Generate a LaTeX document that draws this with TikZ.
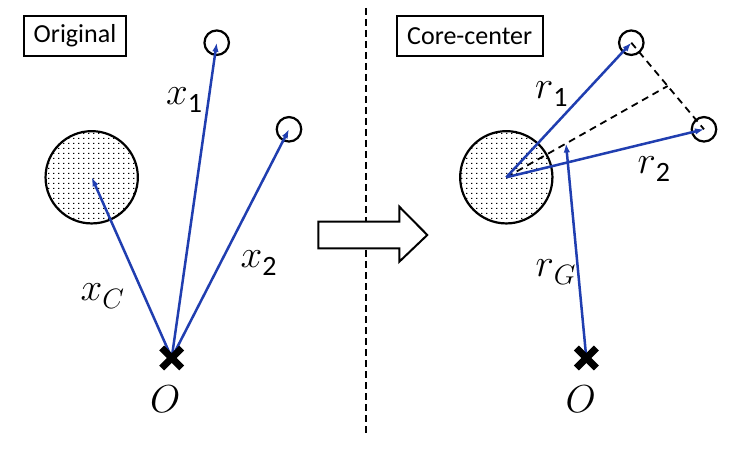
\RequirePackage{fix-cm}
\documentclass[tikz,border=0pt]{standalone}
\usepackage{fontspec}
\setmainfont{Carlito}
\usetikzlibrary{arrows.meta,calc,patterns}
\definecolor{vecblue}{RGB}{32,62,176}
\pgfdeclarepatternformonly{coredots}{\pgfpointorigin}{\pgfpoint{4.8pt}{4.6pt}}{\pgfpoint{4.8pt}{4.6pt}}{%
  \pgfpathrectangle{\pgfpointorigin}{\pgfpoint{1.3pt}{1.3pt}}\pgfusepath{fill}}
\newcommand{\mylab}[2]{{\fontsize{39}{39}\selectfont $#1$\raisebox{-8pt}{\fontsize{28}{28}\selectfont #2}}}
\begin{document}
\begin{tikzpicture}[x=1pt,y=-1pt,
  titlebox/.style={draw,line width=2pt,minimum height=40pt,inner sep=0pt,font=\fontsize{26}{26}\selectfont},
  core/.style={circle,draw,line width=2.2pt,minimum size=92.3pt,inner sep=0pt,pattern=coredots},
  sat/.style={circle,draw,line width=2.2pt,minimum size=24.5pt,inner sep=0pt},
  vec/.style={draw=vecblue,line width=2.5pt,-{Latex[length=9pt,width=6.5pt]}},
  guide/.style={draw,line width=1.8pt,dash pattern=on 7pt off 5pt},
  lab/.style={anchor=base west,inner sep=0pt},
  crossline/.style={line width=7pt}]
\useasboundingbox (0,0) rectangle (747,449);
\fill[white] (0,0) rectangle (747,449);

% divider
\draw[line width=2pt,dash pattern=on 7pt off 4pt] (365.7,8) coordinate (dtop) -- (365.7,433) coordinate (dbot);

% block arrow
\draw[line width=2pt,fill=white,line join=miter]
  (318.3,221.7) -- (399.3,221.7) -- (399.3,206.7) -- (427.3,235) -- (399.3,261.7)
  -- (399.3,248.3) -- (318.3,248.3) -- cycle;

% ---------- left panel ----------
\node[titlebox,minimum width=102.6pt] (orig) at (75,36) {Original};
\node[core] (coreL) at (91.7,177.3) {};
\node[sat] (s1L) at (216.7,42.7) {};
\node[sat] (s2L) at (289,129.3) {};
\coordinate (oL) at (171.7,358);
\draw[vec] (oL) -- (coreL.center);
\draw[vec] (oL) -- (s1L.center);
\draw[vec] (oL) -- (s2L.center);
\draw[crossline] ($(oL)+(-10,-10)$) -- ($(oL)+(10,10)$);
\draw[crossline] ($(oL)+(-10,10)$) -- ($(oL)+(10,-10)$);
\node[lab] (lx1) at (166,105) {\mylab{x}{1}};
\node[lab] (lx2) at (240.5,268) {\mylab{x}{2}};
\node[lab] (lxc) at (80.5,300) {\mylab{x}{$C$}};
\node[lab] (lo1) at (150,412) {\fontsize{39}{39}\selectfont $O$};

% ---------- right panel ----------
\node[titlebox,minimum width=146pt] (cc) at (469.7,36) {Core-center};
\node[core] (coreR) at (506.3,177.3) {};
\node[sat] (s1R) at (631.3,42.7) {};
\node[sat] (s2R) at (704,129.3) {};
\coordinate (mid) at ($(s1R.center)!0.5!(s2R.center)$);
\coordinate (gR) at ($(coreR.center)!0.37!(mid)$);
\coordinate (oR) at (586.3,358);
\draw[guide] (s1R.center) -- (mid) -- (s2R.center);
\draw[guide] (coreR.center) -- (mid);
\draw[vec] (coreR.center) -- (s1R.center);
\draw[vec] (coreR.center) -- (s2R.center);
\draw[vec] (oR) -- (gR);
\draw[crossline] ($(oR)+(-10,-10)$) -- ($(oR)+(10,10)$);
\draw[crossline] ($(oR)+(-10,10)$) -- ($(oR)+(10,-10)$);
\node[lab] (lr1) at (535,98.3) {\mylab{r}{1}};
\node[lab] (lr2) at (637.5,173.3) {\mylab{r}{2}};
\node[lab] (lrg) at (535.5,276.7) {\mylab{r}{$G$}};
\node[lab] (lo2) at (565.5,412.7) {\fontsize{39}{39}\selectfont $O$};
\end{tikzpicture}
\end{document}
